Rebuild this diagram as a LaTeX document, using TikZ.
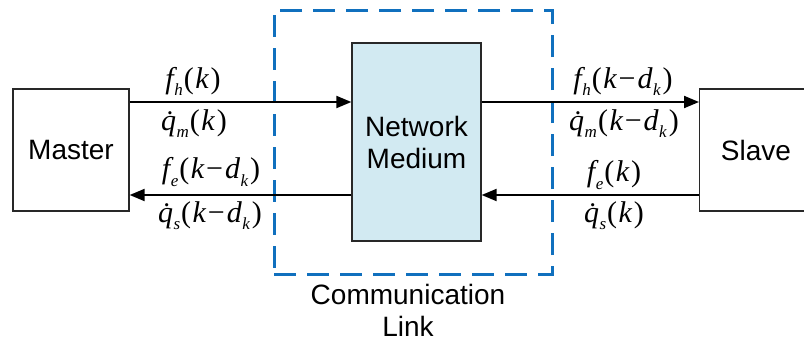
\documentclass[tikz,border=0pt]{standalone}
\usepackage{fontspec}
\setmainfont{Liberation Sans}
\newfontfamily\tms{Liberation Serif}
\usetikzlibrary{arrows.meta}
\definecolor{linkblue}{RGB}{16,112,190}
\definecolor{netfill}{RGB}{210,234,242}
\definecolor{boxline}{RGB}{40,40,40}
\newcommand\vi[1]{{\tms\itshape #1}}
\newcommand\sbs[1]{\kern0.5pt\raisebox{-0.45ex}{\fontsize{17}{17}\selectfont\tms\itshape #1}}
\newcommand\pl[1]{{\tms #1}}
\newcommand\dq{\vi{\.q}}
\newcommand\mns{\kern2pt{\tms\symbol{"2212}}\kern2pt}
\newcommand\arga{\kern1pt\pl{(}\kern1.5pt\vi{k}\kern2pt\pl{)}}
\newcommand\argb{\kern1pt\pl{(}\kern1.5pt\vi{k}\mns\vi{d}\sbs{k}\kern2pt\pl{)}}
\tikzset{
  blockbox/.style={draw=boxline, line width=1.3pt, fill=white, inner sep=0pt,
    font=\fontsize{28}{32}\selectfont, align=center},
  netbox/.style={blockbox, fill=netfill},
  linkbox/.style={draw=linkblue, line width=3pt, dash pattern=on 22pt off 11pt},
  arr/.style={line width=2pt, -{Triangle[length=15pt,width=12pt]}},
  sig/.style={font=\fontsize{30}{34}\selectfont, inner sep=0pt},
  plain/.style={font=\fontsize{28}{32}\selectfont, align=center, inner sep=0pt}
}
\begin{document}
\begin{tikzpicture}[x=1pt,y=-1pt]
\useasboundingbox (0,0) rectangle (804,341);
\clip (0,0) rectangle (804,341);
\fill[white] (0,0) rectangle (804,341);
% dashed communication link
\node[linkbox, minimum width=278pt, minimum height=264pt, inner sep=0pt] (link) at (413,142) {};
% blocks
\node[blockbox, minimum width=116pt, minimum height=122pt] (master) at (71,150) {Master};
\node[netbox, minimum width=129pt, minimum height=198pt] (net) at (416.5,142) {Network\\Medium};
\node[blockbox, minimum width=116pt, minimum height=122pt, anchor=west] (slave) at (699,150) {};
\node[plain] (slavetxt) at (756,150) {Slave};
% connectors
\coordinate (top) at (0,102);
\coordinate (bot) at (0,195);
\draw[arr] (master.east |- top) -- (net.west |- top);
\draw[arr] (net.west |- bot) -- (master.east |- bot);
\draw[arr] (net.east |- top) -- (slave.west |- top);
\draw[arr] (slave.west |- bot) -- (net.east |- bot);
% signal labels
\node[sig] (l1) at (193,81) {\vi{f}\sbs{h}\arga};
\node[sig] (l2) at (194,124) {\dq\sbs{m}\arga};
\node[sig] (l3) at (211,172) {\vi{f}\sbs{e}\argb};
\node[sig] (l4) at (210,216) {\dq\sbs{s}\argb};
\node[sig] (r1) at (623,81) {\vi{f}\sbs{h}\argb};
\node[sig] (r2) at (624,124) {\dq\sbs{m}\argb};
\node[sig] (r3) at (614,175) {\vi{f}\sbs{e}\arga};
\node[sig] (r4) at (614,216) {\dq\sbs{s}\arga};
% link caption
\node[plain, anchor=north] (cap) at (408,284) {Communication\\Link};
\end{tikzpicture}
\end{document}
